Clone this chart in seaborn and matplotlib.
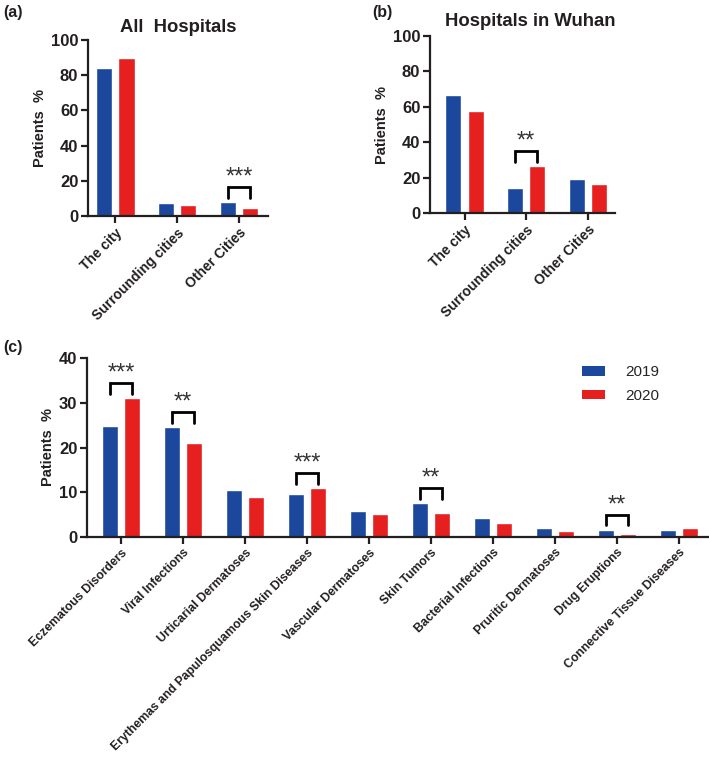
import numpy as np
import pandas as pd
import seaborn as sns
import matplotlib.pyplot as plt
from matplotlib.patches import Patch

sns.set_theme(style="ticks")
plt.rcParams['font.family'] = ['Liberation Sans', 'DejaVu Sans']

years = ['2019', '2020']
colors = ['#1b489c', '#e5201f']

# (a) and (b): patient origin
origins = ['The city', 'Surrounding cities', 'Other Cities']
all_2019 = [84.2, 7.6, 8.0]
all_2020 = [89.6, 6.1, 4.3]
wuhan_2019 = [66.5, 14.4, 19.0]
wuhan_2020 = [57.6, 26.4, 16.3]

# (c): disease groups
diseases = ['Eczematous Disorders', 'Viral Infections', 'Urticarial Dermatoses',
            'Erythemas and Papulosquamous Skin Diseases', 'Vascular Dermatoses',
            'Skin Tumors', 'Bacterial Infections', 'Pruritic Dermatoses',
            'Drug Eruptions', 'Connective Tissue Diseases']
dis_2019 = [24.8, 24.5, 10.6, 9.6, 5.7, 7.5, 4.3, 2.1, 1.6, 1.5]
dis_2020 = [31.0, 20.9, 8.9, 10.9, 5.1, 5.3, 3.1, 1.4, 0.6, 1.9]

# significance marks: (category index, stars)
sig_all = [(2, '***')]
sig_wuhan = [(1, '**')]
sig_dis = [(0, '***'), (1, '**'), (3, '***'), (5, '**'), (8, '**')]


def long_df(cats, v19, v20):
    return pd.DataFrame({'cat': cats * 2,
                         'year': [years[0]] * len(cats) + [years[1]] * len(cats),
                         'val': list(v19) + list(v20)})


def bar_panel(ax, cats, v19, v20, ymax, step, xlim, rot_size):
    df = long_df(cats, v19, v20)
    sns.barplot(data=df, x='cat', y='val', hue='year', palette=colors,
                width=0.73, gap=0.29, saturation=1, ax=ax, legend=False)
    ax.set_ylim(0, ymax)
    ax.set_yticks(np.arange(0, ymax + 1, step))
    ax.set_xlim(*xlim)
    ax.set_xlabel('')
    ax.set_ylabel('Patients  %', fontsize=10.5, fontweight='bold', labelpad=3,
                  color='#231f20')
    sns.despine(ax=ax)
    for s in ['left', 'bottom']:
        ax.spines[s].set_linewidth(1.6)
        ax.spines[s].set_color('#231f20')
    ax.tick_params(axis='both', width=1.6, length=5, color='#231f20', pad=2)
    ax.tick_params(axis='y', labelsize=12)
    for lab in ax.get_yticklabels():
        lab.set_fontweight('bold')
        lab.set_color('#231f20')
    ax.set_xticks(range(len(cats)))
    ax.set_xticklabels(cats, rotation=45, ha='right', va='top',
                       rotation_mode='anchor', fontsize=rot_size,
                       fontweight='bold', color='#231f20')


def brackets(ax, v19, v20, sigs, ymax):
    off = 0.5 * 0.73 / 2
    top_pad = 0.085 * ymax
    leg = 0.06 * ymax
    for i, stars in sigs:
        top = max(v19[i], v20[i]) + top_pad
        ax.plot([i - off, i - off, i + off, i + off],
                [top - leg, top, top, top - leg], color='black', lw=2,
                solid_joinstyle='miter', clip_on=False)
        ax.text(i, top + 0.02 * ymax, stars, ha='center', va='baseline',
                fontsize=17, color='#333333')


fig = plt.figure(figsize=(7.09, 7.61), dpi=100)
W, H = 709, 761


def px_axes(x0, x1, ytop, ybot):
    return fig.add_axes([x0 / W, 1 - ybot / H, (x1 - x0) / W, (ybot - ytop) / H])


ax_a = px_axes(88, 268, 40, 216)
bar_panel(ax_a, origins, all_2019, all_2020, 100, 20, (-0.44, 2.47), 10)
brackets(ax_a, all_2019, all_2020, sig_all, 100)
ax_a.set_title('All  Hospitals', fontsize=13.3, fontweight='bold', pad=6,
               color='#231f20')

ax_b = px_axes(430, 615, 36, 213)
bar_panel(ax_b, origins, wuhan_2019, wuhan_2020, 100, 20, (-0.56, 2.44), 10)
brackets(ax_b, wuhan_2019, wuhan_2020, sig_wuhan, 100)
ax_b.set_title('Hospitals in Wuhan', fontsize=13.3, fontweight='bold', pad=7,
               x=0.54, color='#231f20')

ax_c = px_axes(87, 708, 358, 537)
bar_panel(ax_c, diseases, dis_2019, dis_2020, 40, 10, (-0.55, 9.47), 8.8)
brackets(ax_c, dis_2019, dis_2020, sig_dis, 40)
handles = [Patch(facecolor=c, edgecolor='none') for c in colors]
ax_c.legend(handles, years, loc='upper left', bbox_to_anchor=(0.775, 1.035),
            frameon=False, fontsize=11, handlelength=1.5, handleheight=0.55,
            handletextpad=1.3, labelspacing=0.6)

for txt, x, y in [('(a)', 3, 12), ('(b)', 372, 12), ('(c)', 3, 347)]:
    fig.text(x / W, 1 - y / H, txt, fontsize=11.5, fontweight='bold',
             va='center', ha='left', color='#231f20')

fig.savefig('out.png', dpi=100)
